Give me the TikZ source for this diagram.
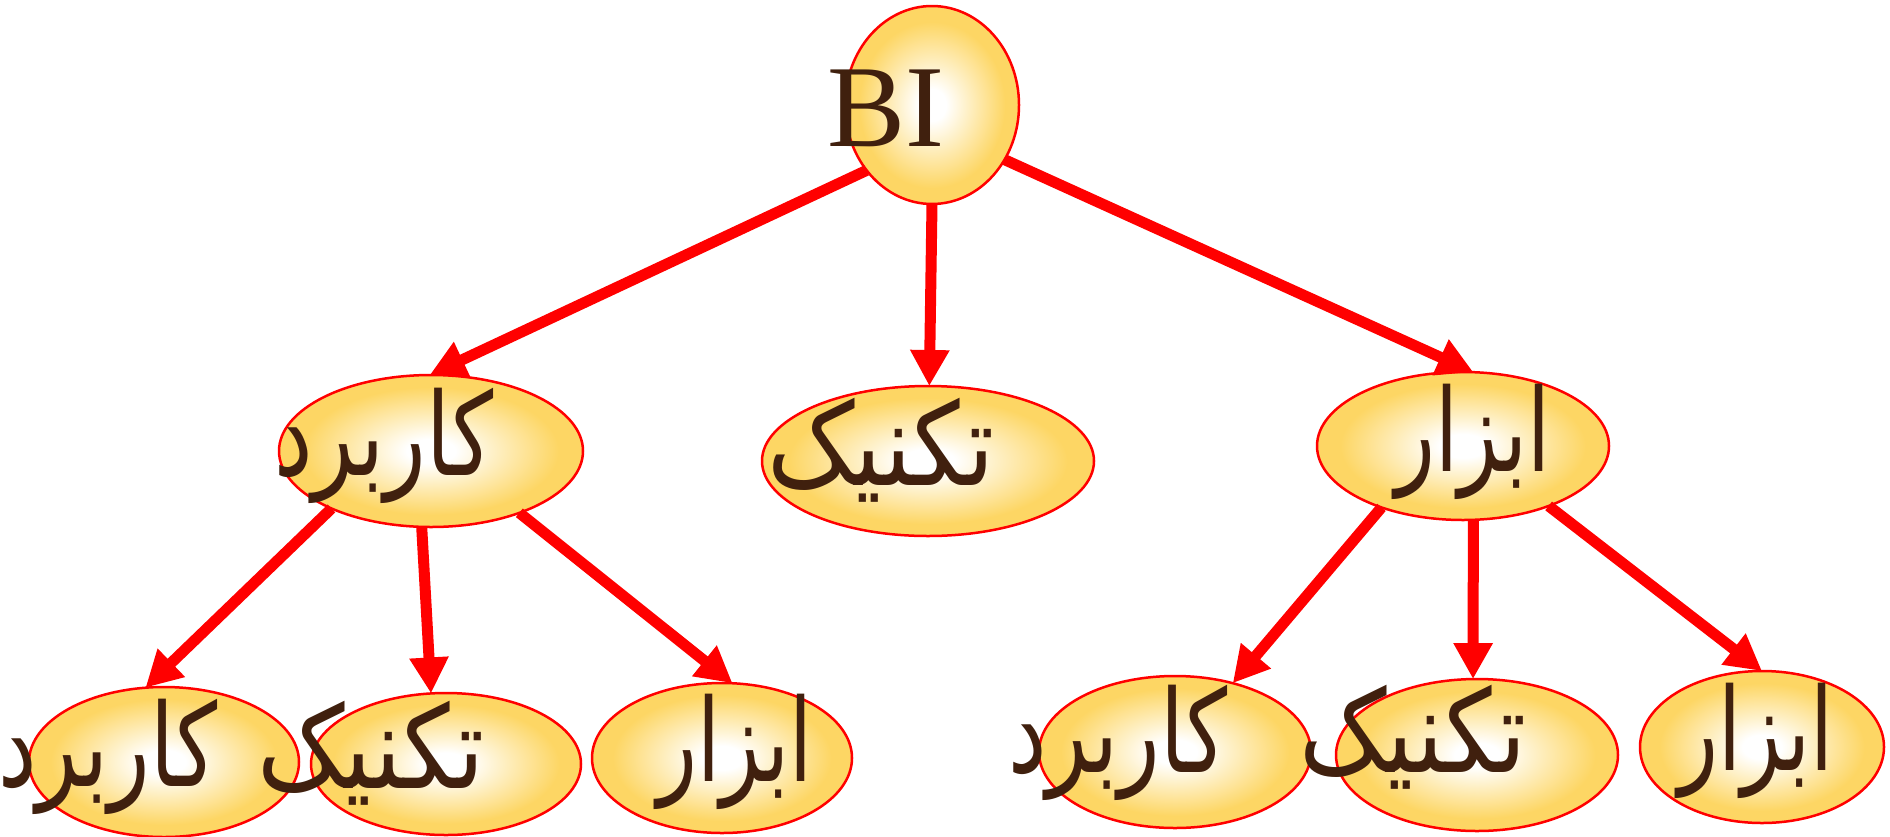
\documentclass[tikz,border=0pt]{standalone}
\usepackage{fontspec}
\usepackage{graphicx}
\setmainfont{Liberation Serif}
\newfontfamily\fa[Script=Arabic]{DejaVu Sans}
\TeXXeTstate=1
\usetikzlibrary{arrows.meta,shapes.geometric}
\definecolor{bubble}{RGB}{253,214,100}
\definecolor{ink}{RGB}{64,32,14}
\pgfdeclareradialshading{bubbleshade}{\pgfpoint{0bp}{0bp}}{%
  color(0bp)=(white); color(4bp)=(white); color(21bp)=(bubble);
  color(25bp)=(bubble); color(50bp)=(bubble)}
% narrow, tall Persian words
\newcommand{\fword}[2]{\scalebox{#1}[1]{\beginR #2\endR}}
\tikzset{
  bubble/.style={ellipse, draw=red, line width=2.5pt, shade, shading=bubbleshade,
    inner sep=0pt, outer sep=0pt},
  link/.style={draw=red, line width=11pt,
    -{Triangle[length=36pt,width=37pt]}},
  word/.style={text=ink, inner sep=0pt, anchor=base, font=\fa\fontsize{115}{120}\selectfont},
}
\begin{document}
\begin{tikzpicture}[x=1pt,y=-1pt]
\useasboundingbox (0,0) rectangle (1890,836);

% bubbles
\node[bubble, minimum width=174pt, minimum height=198pt] (bi) at (932,105) {};
\node[bubble, minimum width=304pt, minimum height=152pt] (k1) at (431,451) {};
\node[bubble, minimum width=332pt, minimum height=150pt] (t1) at (928,461) {};
\node[bubble, minimum width=292pt, minimum height=148pt] (a1) at (1463,446) {};
\node[bubble, minimum width=270pt, minimum height=150pt] (k2) at (164,762) {};
\node[bubble, minimum width=270pt, minimum height=142pt] (t2) at (446,764) {};
\node[bubble, minimum width=260pt, minimum height=150pt] (a2) at (722,758) {};
\node[bubble, minimum width=272pt, minimum height=152pt] (k3) at (1175,752) {};
\node[bubble, minimum width=282pt, minimum height=152pt] (t3) at (1477,755) {};
\node[bubble, minimum width=244pt, minimum height=152pt] (a3) at (1762,747) {};

% arrows
\draw[link] (bi.225) -- (k1.91);
\draw[link] (bi.270) -- (t1.89);
\draw[link] (bi.323) -- (a1.82);
\draw[link] (k1.210) -- (k2.104);
\draw[link] (k1.263) -- (t2.102);
\draw[link] (k1.325) -- (a2.82);
\draw[link] (a1.217) -- (k3.50);
\draw[link] (a1.278) -- (t3.93);
\draw[link] (a1.325) -- (a3.90);

% labels
\node[text=ink, inner sep=0pt, font=\fontsize{117}{120}\selectfont] (bil) at (886,108) {BI};
\node[word] (k1l) at (384,475) {\fword{0.75}{کاربرد}};
\node[word] (t1l) at (881,485) {\fword{0.85}{تکنیک}};
\node[word] (a1l) at (1473,471) {\fword{0.72}{ابزار}};
\node[word] (k2l) at (108,786) {\fword{0.75}{کاربرد}};
\node[word] (t2l) at (371,788) {\fword{0.85}{تکنیک}};
\node[word] (a2l) at (735,781) {\fword{0.72}{ابزار}};
\node[word] (k3l) at (1118,772) {\fword{0.75}{کاربرد}};
\node[word] (t3l) at (1413,772) {\fword{0.85}{تکنیک}};
\node[word] (a3l) at (1756,770) {\fword{0.72}{ابزار}};
\end{tikzpicture}
\end{document}
